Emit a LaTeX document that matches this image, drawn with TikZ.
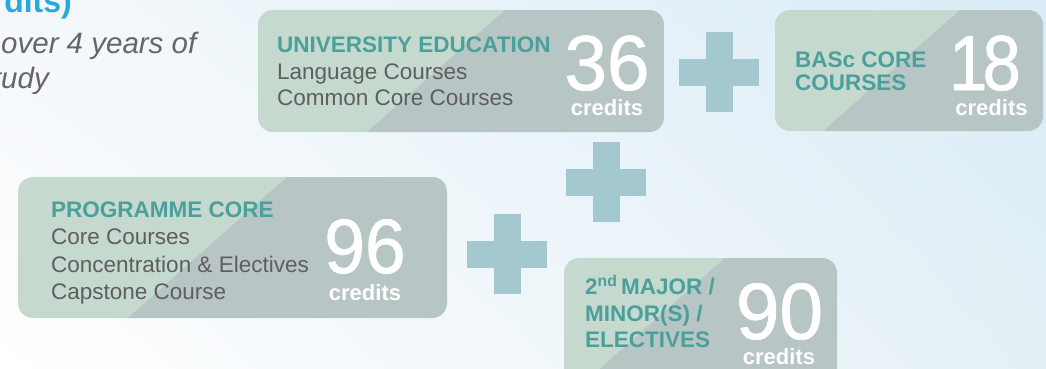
\documentclass[tikz,border=0pt]{standalone}
\usepackage{fontspec}
\setmainfont{Liberation Sans}
\newfontfamily\numfont[FakeBold=1]{Liberation Sans}
\usepackage{graphicx}
\usetikzlibrary{shadings}
\definecolor{boxlight}{HTML}{C5D9CF}
\definecolor{boxdark}{HTML}{B7C5C5}
\definecolor{headteal}{HTML}{4BA09B}
\definecolor{bodygray}{HTML}{5E5E5E}
\definecolor{plusblue}{HTML}{A3C8CF}
\definecolor{titleblue}{HTML}{29A8DF}
\definecolor{notegray}{HTML}{666666}
\definecolor{bgtl}{HTML}{F4F8FB}
\definecolor{bgtr}{HTML}{DAECF6}
\definecolor{bgbl}{HTML}{FFFFFF}
\definecolor{bgbr}{HTML}{E4F0F6}
\tikzset{
  head/.style={anchor=base west, inner sep=0pt, text=headteal, font=\fontsize{22.5}{26}\selectfont\bfseries},
  body/.style={anchor=base west, inner sep=0pt, text=bodygray, font=\fontsize{22.5}{26}\selectfont},
  credits/.style={anchor=base, inner sep=0pt, text=white, font=\fontsize{22}{26}\selectfont\bfseries},
  bignum/.style={anchor=base, inner sep=0pt, text depth=0pt, text=white},
  note/.style={inner sep=0pt, text=notegray, font=\fontsize{29.5}{34}\selectfont\itshape},
}
% size, x-squeeze, digits
\newcommand{\bignumber}[3]{\numfont\fontsize{#1}{#1}\selectfont\scalebox{#2}[1]{#3}}
% x1, y1, x2, y2, top of the diagonal
\newcommand{\splitbox}[5]{%
  \begin{scope}
    \clip[rounded corners=15] (#1,#2) rectangle (#3,#4);
    \fill[boxlight] (#1,#2) rectangle (#3,#4);
    \fill[boxdark] (#5,#2) -- (#3,#2) -- (#3,#4) -- ({#5-1.13*(#4-#2)},#4) -- cycle;
  \end{scope}}

\begin{document}
\begin{tikzpicture}[x=1pt, y=-1pt]
  \useasboundingbox (0,0) rectangle (1046,368);
  \clip (0,0) rectangle (1046,368);
  % background
  \shade[upper left=bgtl, upper right=bgtr, lower left=bgbl, lower right=bgbr] (0,0) rectangle (1046,368);

  % heading, cut at the left
  \node[anchor=base east, inner sep=0pt, text=titleblue, font=\fontsize{32}{36}\selectfont\bfseries] (title) at (72,12) {dits)};
  \node[note, anchor=base west] (note1) at (1,53) {over 4 years of};
  \node[note, anchor=base east] (note2) at (49,88) {tudy};

  % boxes
  \splitbox{258}{10}{664}{132}{505}
  \splitbox{775}{10}{1043}{131}{960}
  \splitbox{18}{177}{447}{318}{287}
  \splitbox{564}{258}{837}{390}{725}

  % plus signs
  \foreach \px/\py in {719/72, 606/182, 507/254}
  {
    \fill[plusblue] (\px-40,\py-13.5) rectangle (\px+40,\py+13.5);
    \fill[plusblue] (\px-13.5,\py-40) rectangle (\px+13.5,\py+40);
  }

  % university education
  \node[head] (uehead) at (277,52) {UNIVERSITY EDUCATION};
  \node[body] (uelang) at (277,79) {Language Courses};
  \node[body] (uecc) at (277,105) {Common Core Courses};
  \node[bignum] (uenum) at (607,90) {\bignumber{78}{0.98}{36}};
  \node[credits] (uecr) at (607,115.5) {credits};

  % basc core
  \node[head] (bchead) at (795,67) {BASc CORE};
  \node[head] (bchead2) at (795,90) {COURSES};
  \node[bignum] (bcnum) at (985,90) {\bignumber{78}{0.88}{1\kern-.07em 8}};
  \node[credits] (bccr) at (991.5,115.5) {credits};

  % programme core
  \node[head] (pchead) at (51,217) {PROGRAMME CORE};
  \node[body] (pccore) at (51,244) {Core Courses};
  \node[body] (pcconc) at (51,272) {Concentration \& Electives};
  \node[body] (pccap) at (51,299) {Capstone Course};
  \node[bignum] (pcnum) at (365,273) {\bignumber{77}{0.95}{96}};
  \node[credits] (pccr) at (365,300) {credits};

  % second major
  \node[head] (smhead) at (585,294) {2\textsuperscript{nd}\,MAJOR /};
  \node[head] (smhead2) at (585,321) {MINOR(S) /};
  \node[head] (smhead3) at (585,347) {ELECTIVES};
  \node[bignum] (smnum) at (779.5,339) {\bignumber{80}{0.98}{90}};
  \node[credits] (smcr) at (779,364) {credits};
\end{tikzpicture}
\end{document}
